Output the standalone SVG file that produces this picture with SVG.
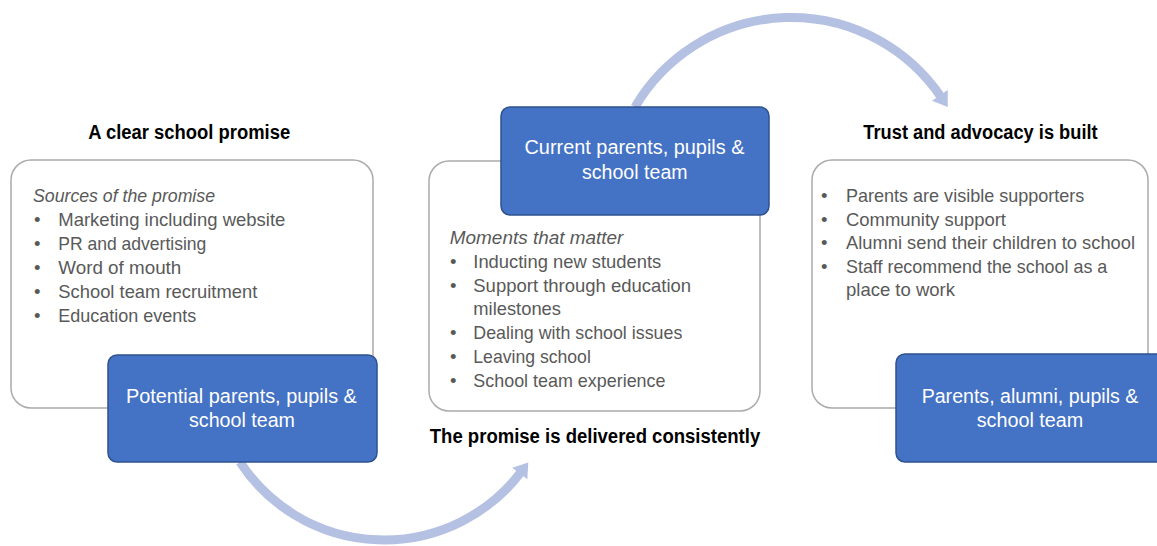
<svg xmlns="http://www.w3.org/2000/svg" width="1157" height="546" viewBox="0 0 1157 546">
<style>
.card{fill:#ffffff;stroke:#ababab;stroke-width:1.5}
.blue{fill:#4472c4;stroke:#2f528f;stroke-width:1.5}
.title{font-family:"Liberation Sans",Arial,sans-serif;font-weight:bold;font-size:19.5px;fill:#000000}
.body{font-family:"Liberation Sans",Arial,sans-serif;font-size:18.5px;fill:#595959}
.it{font-style:italic}
.btxt{font-family:"Liberation Sans",Arial,sans-serif;font-size:19.5px;fill:#ffffff;text-anchor:middle}
.arc{fill:none;stroke:#b4c1e3;stroke-width:9}
</style>
<defs>
<marker id="head" markerUnits="userSpaceOnUse" markerWidth="16" markerHeight="20" refX="2" refY="9.5" orient="auto" overflow="visible">
<path d="M0,0 L14,9.5 L0,19 Z" fill="#b4c1e3"/>
</marker>
</defs>
<g id="connectors">
<path class="arc" d="M 635 107 A 181 181 0 0 1 941 97" marker-end="url(#head)"/>
<path class="arc" d="M 240 462 A 172 172 0 0 0 521 472" marker-end="url(#head)"/>
</g>
<g id="stage-promise">
<text class="title" x="189.2" y="139" text-anchor="middle" textLength="202" lengthAdjust="spacingAndGlyphs">A clear school promise</text>
<rect class="card" x="11" y="160" width="362" height="248" rx="20"/>
<text class="body it" x="33" y="202" textLength="182" lengthAdjust="spacingAndGlyphs">Sources of the promise</text>
<g class="body">
<text x="34" y="226">•</text><text x="58.3" y="226" textLength="227" lengthAdjust="spacingAndGlyphs">Marketing including website</text>
<text x="34" y="250">•</text><text x="58.3" y="250" textLength="148" lengthAdjust="spacingAndGlyphs">PR and advertising</text>
<text x="34" y="274">•</text><text x="58.3" y="274" textLength="123" lengthAdjust="spacingAndGlyphs">Word of mouth</text>
<text x="34" y="298">•</text><text x="58.3" y="298" textLength="199" lengthAdjust="spacingAndGlyphs">School team recruitment</text>
<text x="34" y="322">•</text><text x="58.3" y="322" textLength="138" lengthAdjust="spacingAndGlyphs">Education events</text>
</g>
</g>
<g id="node-potential">
<rect class="blue" x="108" y="355" width="269" height="107" rx="9"/>
<text class="btxt" x="241.4" y="402.5" textLength="231" lengthAdjust="spacingAndGlyphs">Potential parents, pupils &amp;</text>
<text class="btxt" x="242" y="426.5" textLength="106" lengthAdjust="spacingAndGlyphs">school team</text>
</g>
<g id="stage-delivered">
<rect class="card" x="429" y="161" width="331" height="250" rx="20"/>
<text class="body it" x="449.8" y="244" textLength="173.6" lengthAdjust="spacingAndGlyphs">Moments that matter</text>
<g class="body">
<text x="450" y="268">•</text><text x="473.3" y="268" textLength="188" lengthAdjust="spacingAndGlyphs">Inducting new students</text>
<text x="450" y="291.7">•</text><text x="473.3" y="291.7" textLength="217.8" lengthAdjust="spacingAndGlyphs">Support through education</text>
<text x="473.3" y="315.4" textLength="87.7" lengthAdjust="spacingAndGlyphs">milestones</text>
<text x="450" y="339.1">•</text><text x="473.3" y="339.1" textLength="209" lengthAdjust="spacingAndGlyphs">Dealing with school issues</text>
<text x="450" y="362.8">•</text><text x="473.3" y="362.8" textLength="117.5" lengthAdjust="spacingAndGlyphs">Leaving school</text>
<text x="450" y="386.5">•</text><text x="473.3" y="386.5" textLength="192.2" lengthAdjust="spacingAndGlyphs">School team experience</text>
</g>
<text class="title" x="595" y="443" text-anchor="middle" textLength="330.4" lengthAdjust="spacingAndGlyphs">The promise is delivered consistently</text>
</g>
<g id="node-current">
<rect class="blue" x="501" y="107" width="268" height="108" rx="9"/>
<text class="btxt" x="634.5" y="154.3" textLength="220" lengthAdjust="spacingAndGlyphs">Current parents, pupils &amp;</text>
<text class="btxt" x="634.8" y="178.9" textLength="105.6" lengthAdjust="spacingAndGlyphs">school team</text>
</g>
<g id="stage-trust">
<text class="title" x="980.5" y="139" text-anchor="middle" textLength="234.3" lengthAdjust="spacingAndGlyphs">Trust and advocacy is built</text>
<rect class="card" x="812" y="160" width="336" height="248" rx="20"/>
<g class="body">
<text x="821" y="202.3">•</text><text x="846" y="202.3" textLength="238.3" lengthAdjust="spacingAndGlyphs">Parents are visible supporters</text>
<text x="821" y="225.5">•</text><text x="846" y="225.5" textLength="160" lengthAdjust="spacingAndGlyphs">Community support</text>
<text x="821" y="249">•</text><text x="846" y="249" textLength="289" lengthAdjust="spacingAndGlyphs">Alumni send their children to school</text>
<text x="821" y="272.7">•</text><text x="846" y="272.7" textLength="261.3" lengthAdjust="spacingAndGlyphs">Staff recommend the school as a</text>
<text x="846" y="296.4" textLength="109" lengthAdjust="spacingAndGlyphs">place to work</text>
</g>
</g>
<g id="node-advocates">
<rect class="blue" x="896" y="354" width="269" height="108" rx="9"/>
<text class="btxt" x="1030" y="403" textLength="216.7" lengthAdjust="spacingAndGlyphs">Parents, alumni, pupils &amp;</text>
<text class="btxt" x="1030" y="426.5" textLength="106.7" lengthAdjust="spacingAndGlyphs">school team</text>
</g>
</svg>
